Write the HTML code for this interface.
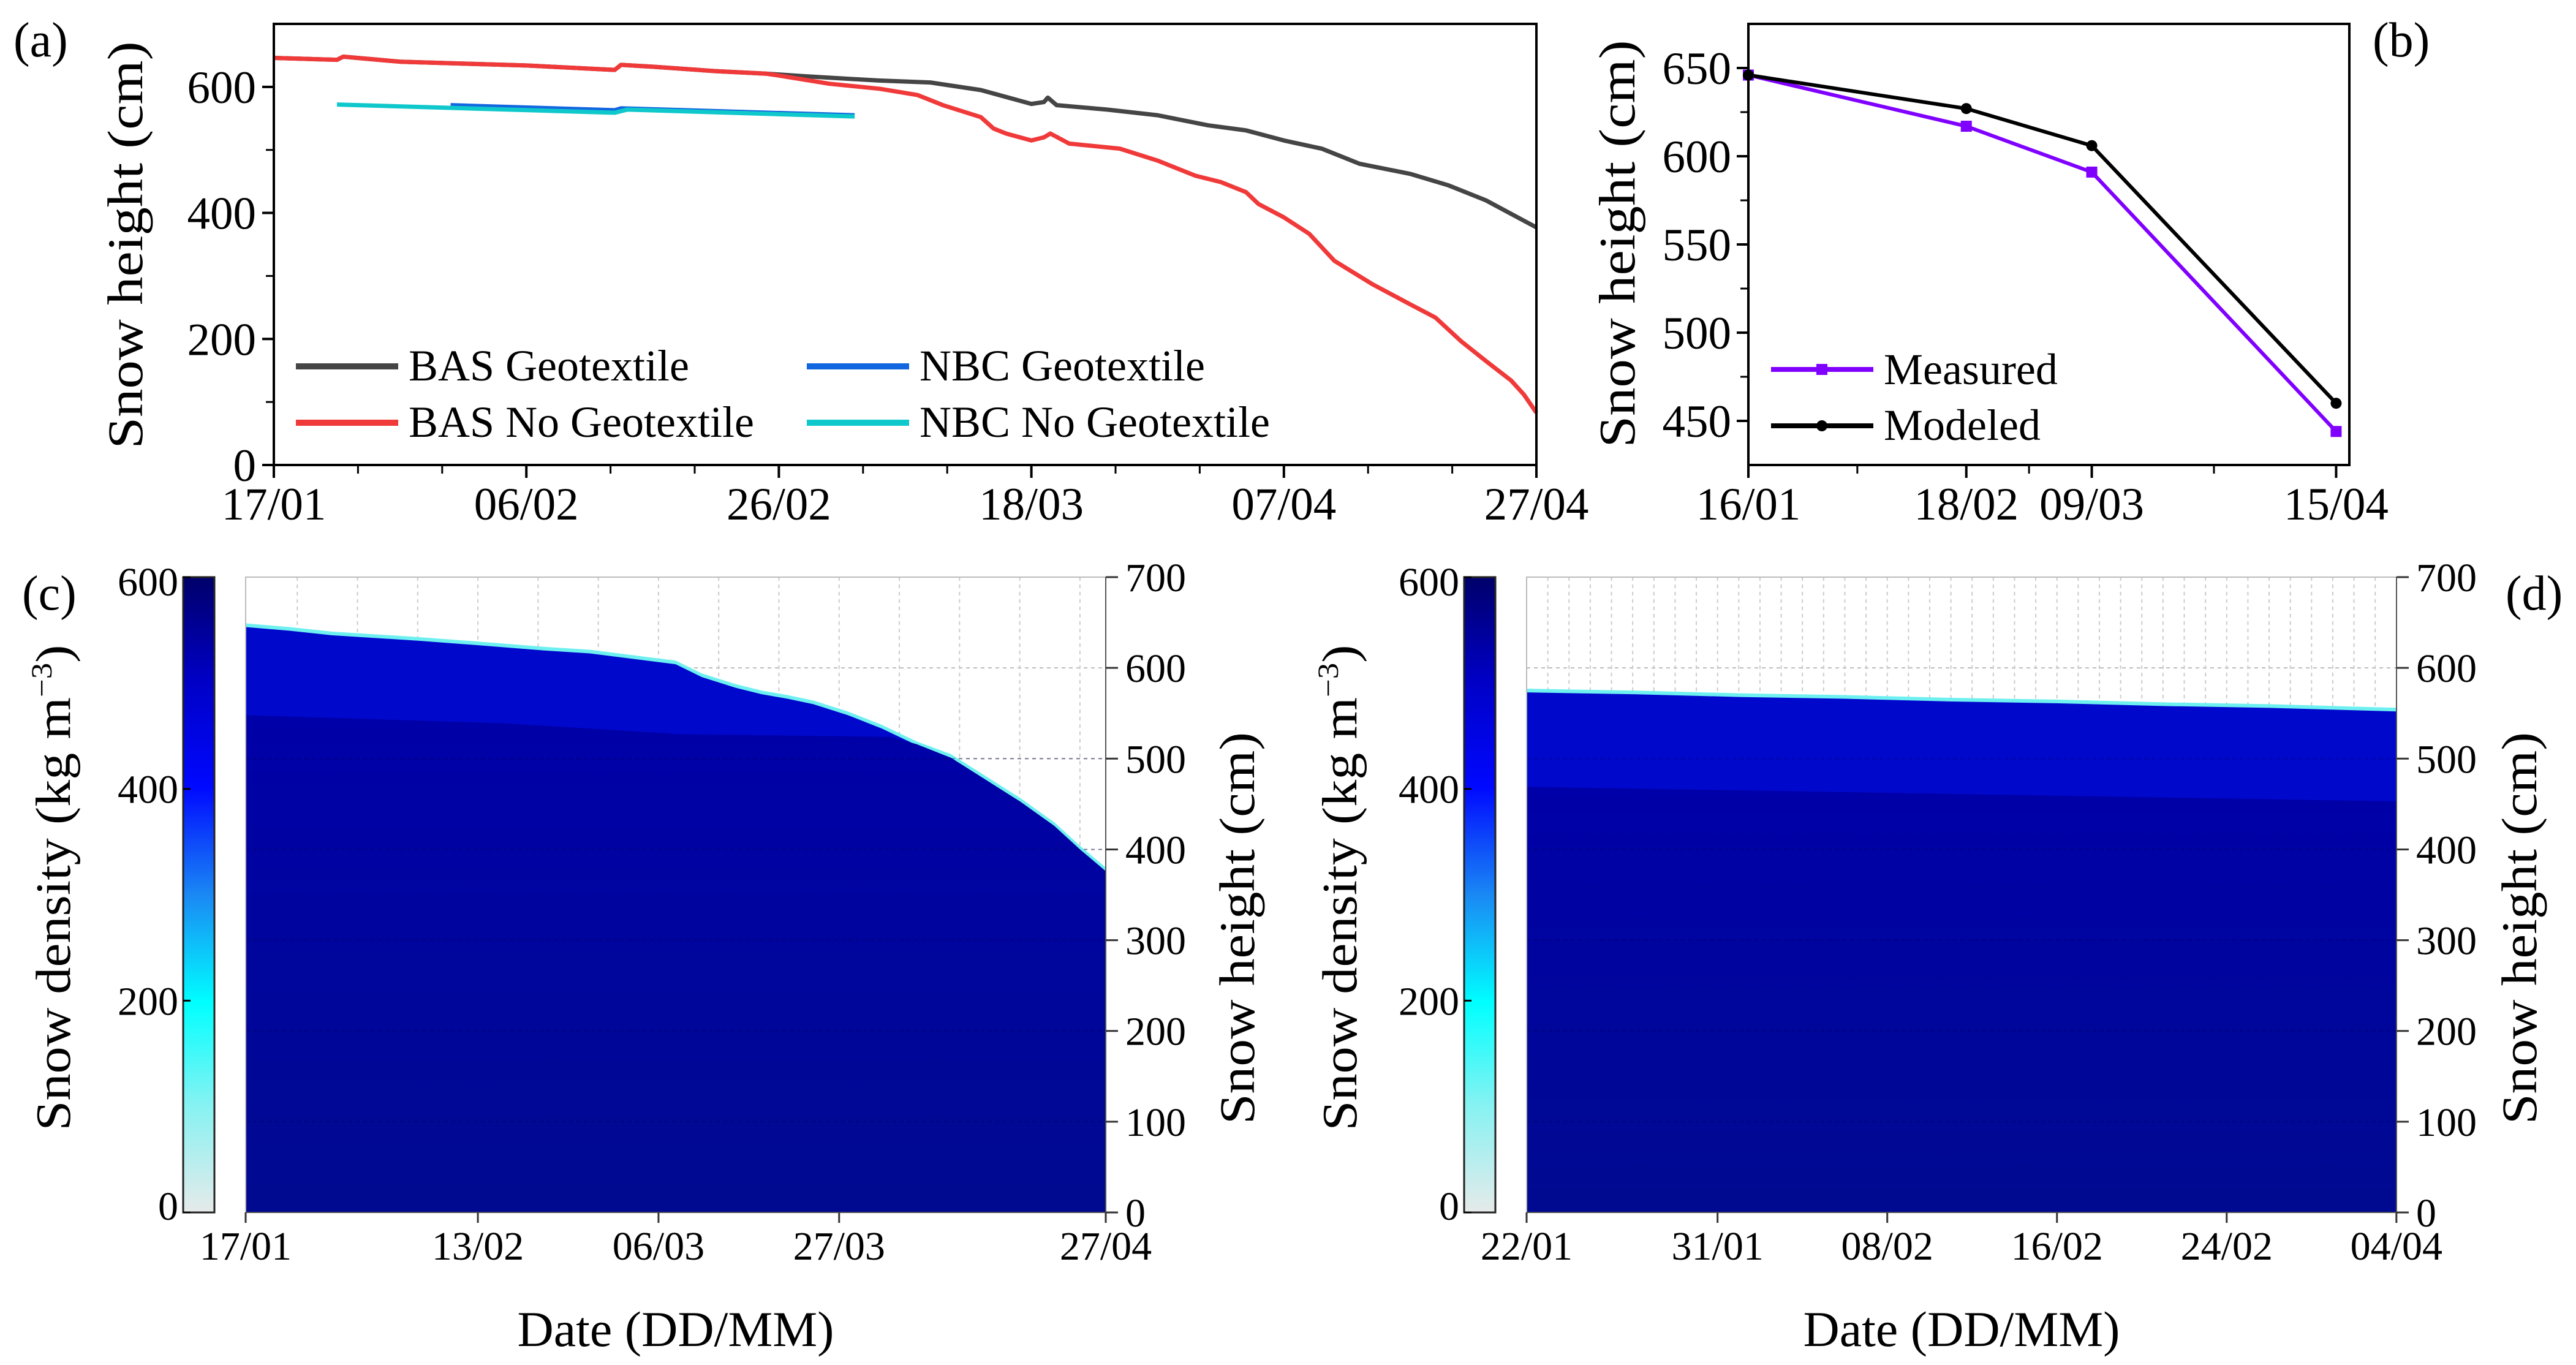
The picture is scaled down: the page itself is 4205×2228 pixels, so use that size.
<!DOCTYPE html>
<html><head><meta charset="utf-8"><style>
html,body{margin:0;padding:0;background:#fff;}
svg, svg text, text, tspan{font-family:"Liberation Serif","Times New Roman",Times,serif !important;}
</style></head><body>
<svg id="fig" xmlns="http://www.w3.org/2000/svg" width="4205" height="2223" viewBox="0 0 4205 2223" font-family="Liberation Serif, serif">
<defs>
<linearGradient id="cbar" x1="0" y1="1" x2="0" y2="0">
<stop offset="0" stop-color="#e6eaea"/>
<stop offset="0.17" stop-color="#86f2f2"/>
<stop offset="0.33" stop-color="#00ffff"/>
<stop offset="0.5" stop-color="#1a88f4"/>
<stop offset="0.67" stop-color="#0008ff"/>
<stop offset="0.84" stop-color="#0000c4"/>
<stop offset="1" stop-color="#00006a"/>
</linearGradient>
<linearGradient id="lowfill" x1="0" y1="0" x2="0" y2="1">
<stop offset="0" stop-color="#0000a8"/>
<stop offset="1" stop-color="#000a90"/>
</linearGradient>
</defs>
<g id="pa"></g>
<g id="pb"></g>
<g id="pc"></g>
<g id="pd"></g>
</svg>
<script>
// ---- Panel (a) data ----
const aTickLabels = ["17/01","06/02","26/02","18/03","07/04","27/04"];
const aYTicks = [0,200,400,600];
const basGeoDays = [0,5,5.5,10,20,27,27.5,30,35,39,42,48,52,56,60,61,61.3,62,66,70,74,77,80,83,86,90,93,96,100];
const basGeoVals = [646,643,648,640,634,627,635,632,625,621,617,610,607,595,573,576,583,571,564,555,539,531,515,502,478,462,444,420,377];
const basNoDays = [0,5,5.5,10,20,27,27.5,30,35,39,40,44,48,51,53,56,57,58,60,61,61.5,63,67,70,73,75,77,78,80,82,84,87,90,92,94,96,98,99,100];
const basNoVals = [646,643,648,640,634,627,635,632,625,621,618,605,597,587,571,552,534,526,515,520,526,510,502,483,459,449,433,414,393,367,324,287,255,234,197,165,134,112,83];
const nbcGeoDays = [14,27,27.5,46];
const nbcGeoVals = [571,563,566,555];
const nbcNoDays = [5,27,28,46];
const nbcNoVals = [572,559,564,553];
// ---- Panel (b) data ----
const bDays = [0,33,52,89];
const bTickLabels = ["16/01","18/02","09/03","15/04"];
const bMeasured = [646,617,591,444];
const bModeled = [646,627,606,460];
const bYTicks = [450,500,550,600,650];
// ---- Panel (c) data ----
const cDays = [0,5,10,20,27,35,40,45,50,53,57,60,63,66,70,74,78,82,86,90,94,97,100];
const cSurface = [645,641,636,630,625,619,616,610,604,590,578,571,566,560,548,533,515,501,477,453,426,400,376];
const cLayerDays = [0,30,49,50,75,78];
const cLayer = [548,539,528,527,524,516];
const cTickDays = [0,27,48,69,100];
const cTickLabels = ["17/01","13/02","06/03","27/03","27/04"];
// ---- Panel (d) data ----
const dDays = [0,5,10,15,20,25,30,35,41];
const dSurface = [573,571,568,566,563,561,558,556,552];
const dLayer = [469,468,466,464,462,460,458,456,453];
const dTickDays = [0,9,17,25,33,41];
const dTickLabels = ["22/01","31/01","08/02","16/02","24/02","04/04"];
const hTicks = [0,100,200,300,400,500,600,700];
const densTicks = [0,200,400,600];

const NS="http://www.w3.org/2000/svg";
function mk(parent,tag,attrs,text){const e=document.createElementNS(NS,tag);for(const k in attrs)e.setAttribute(k,attrs[k]);if(tag==='text')e.setAttribute('font-family','Liberation Serif, Times New Roman, serif');if(text!==undefined)e.textContent=text;parent.appendChild(e);return e;}

const xa=d=>447+d*20.61, ya=v=>759-v*1.0286;
const xb=d=>2854+d*10.78, yb=v=>759-(v-425)*2.88;
const xc=d=>401+d*14.04, yh=v=>1979-v*1.4814;
const xd=d=>2492+d*34.63;
const ycb=v=>1979-v*1037/600;

// ================= Panel A =================
const pa=document.getElementById('pa');
let t;
t=mk(pa,'text',{x:22,y:92,'font-size':80},'(a)');

t=mk(pa,'text',{x:0,y:0,'font-size':82,'text-anchor':'middle',transform:'translate(232,400) rotate(-90)',textLength:665,lengthAdjust:'spacingAndGlyphs'},'Snow height (cm)');

function line(parent,pts,color,w,name){const e=mk(parent,'polyline',{points:pts.map(p=>p.join(',')).join(' '),fill:'none',stroke:color,'stroke-width':w,'stroke-linejoin':'round'});return e;}
line(pa,basGeoDays.map((d,i)=>[xa(d),ya(basGeoVals[i])]),'#454545',7,'series-bas-geotextile');
line(pa,basNoDays.map((d,i)=>[xa(d),ya(basNoVals[i])]),'#f03a3a',7,'series-bas-no-geotextile');
line(pa,nbcGeoDays.map((d,i)=>[xa(d),ya(nbcGeoVals[i])]),'#1266e0',7,'series-nbc-geotextile');
line(pa,nbcNoDays.map((d,i)=>[xa(d),ya(nbcNoVals[i])]),'#0fc8cc',7,'series-nbc-no-geotextile');
t=mk(pa,'rect',{x:447,y:39,width:2061,height:720,fill:'none',stroke:'#000','stroke-width':4});

for(let i=0;i<aTickLabels.length;i++){const x=xa(i*20);
 mk(pa,'line',{x1:x,y1:759,x2:x,y2:780,stroke:'#000','stroke-width':4});
 t=mk(pa,'text',{x:x,y:848,'font-size':75,'text-anchor':'middle'},aTickLabels[i]);
 }
for(let d=0;d<100;d+=20){for(const k of [1,2]){const x=xa(d+k*20/3);mk(pa,'line',{x1:x,y1:759,x2:x,y2:773,stroke:'#000','stroke-width':3});}}
for(const v of aYTicks){const y=ya(v);mk(pa,'line',{x1:447,y1:y,x2:428,y2:y,stroke:'#000','stroke-width':4});
 t=mk(pa,'text',{x:418,y:y+26,'font-size':75,'text-anchor':'end'},String(v));
 }
for(const v of [100,300,500]){const y=ya(v);mk(pa,'line',{x1:447,y1:y,x2:434,y2:y,stroke:'#000','stroke-width':3});}
const legA=[["BAS Geotextile",'#454545',483,598],["BAS No Geotextile",'#f03a3a',483,690],["NBC Geotextile",'#1266e0',1317,598],["NBC No Geotextile",'#0fc8cc',1317,690]];
for(const L of legA){const g=mk(pa,'g',{});
 
 mk(g,'line',{x1:L[2],y1:L[3],x2:L[2]+167,y2:L[3],stroke:L[1],'stroke-width':10});
 mk(g,'text',{x:L[2]+184,y:L[3]+23,'font-size':72},L[0]);}

// ================= Panel B =================
const pb=document.getElementById('pb');
t=mk(pb,'text',{x:3873,y:92,'font-size':80},'(b)');

t=mk(pb,'text',{x:0,y:0,'font-size':84,'text-anchor':'middle',transform:'translate(2668,398) rotate(-90)',textLength:665,lengthAdjust:'spacingAndGlyphs'},'Snow height (cm)');

line(pb,bDays.map((d,i)=>[xb(d),yb(bMeasured[i])]),'#8000ff',6,'series-measured');
line(pb,bDays.map((d,i)=>[xb(d),yb(bModeled[i])]),'#000',6,'series-modeled');
for(let i=0;i<bDays.length;i++){
 t=mk(pb,'rect',{x:xb(bDays[i])-9,y:yb(bMeasured[i])-9,width:18,height:18,fill:'#8000ff'});
 
 t=mk(pb,'circle',{cx:xb(bDays[i]),cy:yb(bModeled[i]),r:9,fill:'#000'});
 }
t=mk(pb,'rect',{x:2854,y:39,width:981,height:720,fill:'none',stroke:'#000','stroke-width':4});

for(let i=0;i<bDays.length;i++){const x=xb(bDays[i]);mk(pb,'line',{x1:x,y1:759,x2:x,y2:780,stroke:'#000','stroke-width':4});
 t=mk(pb,'text',{x:x,y:848,'font-size':75,'text-anchor':'middle'},bTickLabels[i]);
 }
for(const d of [16.5,42.5,70.5]){const x=xb(d);mk(pb,'line',{x1:x,y1:759,x2:x,y2:773,stroke:'#000','stroke-width':3});}
for(const v of bYTicks){const y=yb(v);mk(pb,'line',{x1:2854,y1:y,x2:2835,y2:y,stroke:'#000','stroke-width':4});
 t=mk(pb,'text',{x:2826,y:y+26,'font-size':75,'text-anchor':'end'},String(v));
 }
for(const v of [475,525,575,625]){const y=yb(v);mk(pb,'line',{x1:2854,y1:y,x2:2841,y2:y,stroke:'#000','stroke-width':3});}
let g=mk(pb,'g',{});
mk(g,'line',{x1:2891,y1:603,x2:3058,y2:603,stroke:'#8000ff','stroke-width':8});
mk(g,'rect',{x:2965,y:594,width:18,height:18,fill:'#8000ff'});
mk(g,'text',{x:3075,y:627,'font-size':72},'Measured');
g=mk(pb,'g',{});
mk(g,'line',{x1:2891,y1:695,x2:3058,y2:695,stroke:'#000','stroke-width':8});
mk(g,'circle',{cx:2974,cy:695,r:9,fill:'#000'});
mk(g,'text',{x:3075,y:718,'font-size':72},'Modeled');

// ================= Panels C & D =================
function heat(p,xs,L,R,days,surf,layDays,lay,tickDays,tickLabels,cbx,gridStep,gridStart,maxDay,label,labelX,ltitleX,rtitleX){
 for(const v of hTicks){if(v===0||v===700)continue;const y=yh(v);const e=mk(p,'line',{x1:L,y1:y,x2:R,y2:y,stroke:'#bbb','stroke-width':2,'stroke-dasharray':'6,6'});
  }
 for(let d=gridStart;d<maxDay;d+=gridStep){const x=xs(d);const e=mk(p,'line',{x1:x,y1:942,x2:x,y2:1979,stroke:'#ccc','stroke-width':2,'stroke-dasharray':'6,6'});
  }
 let pts=days.map((d,i)=>xs(d)+','+(yh(surf[i])-6)).join(' ');
 let e=mk(p,'polygon',{points:xs(days[0])+',1979 '+pts+' '+xs(days[days.length-1])+',1979',fill:'#6ef0f0'});
 
 pts=days.map((d,i)=>xs(d)+','+yh(surf[i])).join(' ');
 e=mk(p,'polygon',{points:xs(days[0])+',1979 '+pts+' '+xs(days[days.length-1])+',1979',fill:'#0008cc'});
 
 const lp=layDays.map((d,i)=>xs(d)+','+yh(lay[i]));
 const lastD=layDays[layDays.length-1];
 const rest=days.map((d,i)=>[d,surf[i]]).filter(q=>q[0]>lastD).map(q=>xs(q[0])+','+yh(q[1]));
 e=mk(p,'polygon',{points:xs(layDays[0])+',1979 '+lp.concat(rest).join(' ')+' '+R+',1979',fill:'url(#lowfill)'});
 
 for(const v of [100,200,300,400,500]){const y=yh(v);mk(p,'line',{x1:L,y1:y,x2:R,y2:y,stroke:'#000050','stroke-width':2,'stroke-dasharray':'6,6',opacity:0.35});}
 e=mk(p,'rect',{x:L,y:942,width:R-L,height:1037,fill:'none',stroke:'#bbb','stroke-width':2});
 
 mk(p,'line',{x1:L,y1:1979,x2:R,y2:1979,stroke:'#555','stroke-width':2});
 mk(p,'line',{x1:R,y1:942,x2:R,y2:1979,stroke:'#555','stroke-width':2});
 for(let i=0;i<tickDays.length;i++){const x=xs(tickDays[i]);mk(p,'line',{x1:x,y1:1979,x2:x,y2:1996,stroke:'#333','stroke-width':3});
  e=mk(p,'text',{x:x,y:2056,'font-size':66,'text-anchor':'middle'},tickLabels[i]);
  }
 for(const v of hTicks){const y=yh(v);mk(p,'line',{x1:R,y1:y,x2:R+20,y2:y,stroke:'#333','stroke-width':3});
  e=mk(p,'text',{x:R+32,y:y+23,'font-size':66},String(v));
  }
 e=mk(p,'rect',{x:cbx,y:942,width:51,height:1037,fill:'url(#cbar)',stroke:'#222','stroke-width':3});
 
 for(const v of densTicks){const y=ycb(v);mk(p,'line',{x1:cbx,y1:y,x2:cbx+12,y2:y,stroke:'#000','stroke-width':3});
  e=mk(p,'text',{x:cbx-8,y:y+(v===600?30:(v===0?12:23)),'font-size':66,'text-anchor':'end'},String(v));
  }
 e=mk(p,'text',{x:0,y:0,'font-size':80,'text-anchor':'middle',transform:'translate('+ltitleX+',1449) rotate(-90)',textLength:793,lengthAdjust:'spacingAndGlyphs'});
 
 e.innerHTML='Snow  density (kg m<tspan font-size="48" dy="-30">\u22123</tspan><tspan dy="30">)</tspan>';
 e=mk(p,'text',{x:0,y:0,'font-size':82,'text-anchor':'middle',transform:'translate('+rtitleX+',1515) rotate(-90)',textLength:640,lengthAdjust:'spacingAndGlyphs'},'Snow  height (cm)');
 
 e=mk(p,'text',{x:(L+R)/2,y:2197,'font-size':82,'text-anchor':'middle'},'Date (DD/MM)');
 
 e=mk(p,'text',{x:labelX,y:995,'font-size':80},label);
 
}
heat(document.getElementById('pc'),xc,401,1805,cDays,cSurface,cLayerDays,cLayer,cTickDays,cTickLabels,299,7,6,100,'(c)',36,114,2047);
heat(document.getElementById('pd'),xd,2492,3912,dDays,dSurface,[0,41],[dLayer[0],dLayer[dLayer.length-1]],dTickDays,dTickLabels,2390,1,1,41,'(d)',4090,2214,4140);
</script>
</body></html>
